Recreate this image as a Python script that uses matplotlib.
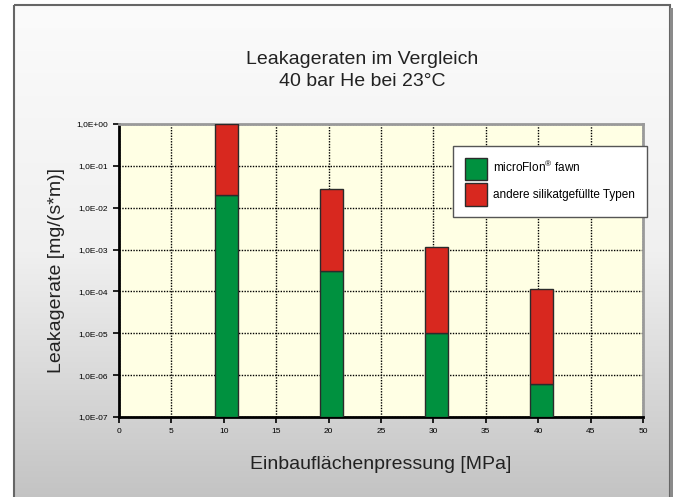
"""Leakageraten im Vergleich - log bar chart, 674x497 PNG."""
import numpy as np
import matplotlib

matplotlib.use("Agg")
import matplotlib.pyplot as plt  # noqa: E402
from matplotlib.patches import Rectangle, Patch  # noqa: E402
from matplotlib.ticker import FixedLocator, FuncFormatter  # noqa: E402

# data
pressure = [10, 20, 30, 40]                      # MPa
microflon = [2.0e-2, 3.0e-4, 1.0e-5, 6.3e-7]     # mg/(s*m)
andere = [1.0e0, 2.8e-2, 1.15e-3, 1.15e-4]       # mg/(s*m), top of stack
series_names = ["microFlon$^{\\mathregular{®}}$ fawn", "andere silikatgefüllte Typen"]
title_lines = ["Leakageraten im Vergleich", "40 bar He bei 23°C"]
x_ticks = list(range(0, 55, 5))
y_exponents = list(range(-7, 1))

GREEN = "#00913f"
RED = "#d8281f"
EDGE = "#2b2b2b"
PLOT_BG = "#ffffe4"
TEXT = "#222222"

plt.rcParams["font.family"] = ["Liberation Sans", "DejaVu Sans"]

fig = plt.figure(figsize=(6.74, 4.97), dpi=100)

# grey gradient panel behind everything
bg = fig.add_axes([0, 0, 1, 1], zorder=-10)
bg.set_xlim(0, 674)
bg.set_ylim(497, 0)
bg.axis("off")
grad = np.linspace(0, 1, 256).reshape(-1, 1)
bg.imshow(grad, cmap=matplotlib.colors.LinearSegmentedColormap.from_list(
    "g", ["#fbfbfb", "#f0f0f0", "#c3c3c3"]),
    extent=[15, 670, 500, 5], aspect="auto")
bg.add_patch(Rectangle((14, 5), 656, 500, fill=False, ec="#666666", lw=1.5))
bg.add_patch(Rectangle((670, 8), 3, 500, color="#8a8a8a", lw=0))

ax = fig.add_axes([119 / 674, 1 - 417 / 497, 524 / 674, 293 / 497])
ax.set_facecolor(PLOT_BG)
ax.set_yscale("log")
ax.set_xlim(0, 50)
ax.set_ylim(1e-7, 1e0)

ymin = 1e-7
width = 2.2
left = [p - 0.8 for p in pressure]
ax.bar(left, np.array(microflon) - ymin, bottom=ymin, width=width, align="edge",
       color=GREEN, edgecolor=EDGE, lw=1, zorder=3)
ax.bar(left, np.array(andere) - np.array(microflon), bottom=microflon, width=width,
       align="edge", color=RED, edgecolor=EDGE, lw=1, zorder=3)

ax.xaxis.set_major_locator(FixedLocator(x_ticks))
ax.yaxis.set_major_locator(FixedLocator([10.0 ** e for e in y_exponents]))
ax.yaxis.set_minor_locator(FixedLocator([]))
ax.yaxis.set_major_formatter(FuncFormatter(lambda v, _: "1,0E%+03d" % round(np.log10(v))))
ax.tick_params(axis="both", labelsize=6, colors="black", length=4, width=1.2,
               direction="out")
ax.tick_params(axis="y", pad=4)
ax.tick_params(axis="x", pad=4)
ax.grid(True, which="major", color="black", linestyle=(0, (1, 1)), lw=1, zorder=1)
ax.set_axisbelow(True)

for side in ("left", "bottom"):
    ax.spines[side].set_color("black")
    ax.spines[side].set_linewidth(2)
for side in ("top", "right"):
    ax.spines[side].set_color("#9a9a9a")
    ax.spines[side].set_linewidth(2)

for line, base in zip(title_lines, [63.5, 86]):
    fig.text(362 / 674, 1 - base / 497, line, ha="center", va="baseline",
             fontsize=14, color=TEXT)
ax.set_ylabel("Leakagerate [mg/(s*m)]", fontsize=14, color=TEXT, labelpad=8)
ax.set_xlabel("Einbauflächenpressung [MPa]", fontsize=14, color=TEXT, labelpad=15)

handles = [Patch(facecolor=GREEN, edgecolor=EDGE), Patch(facecolor=RED, edgecolor=EDGE)]
leg = fig.legend(handles, series_names, loc="upper right",
                 bbox_to_anchor=(647 / 674, 1 - 146 / 497), fontsize=8.5,
                 frameon=True, fancybox=False, framealpha=1, edgecolor="#555555",
                 handlelength=1.9, handleheight=2.5, handletextpad=0.5,
                 labelspacing=0.3, borderpad=1.0, borderaxespad=0)
leg.get_frame().set_linewidth(1)

fig.savefig("out.png", dpi=100)
plt.close(fig)
